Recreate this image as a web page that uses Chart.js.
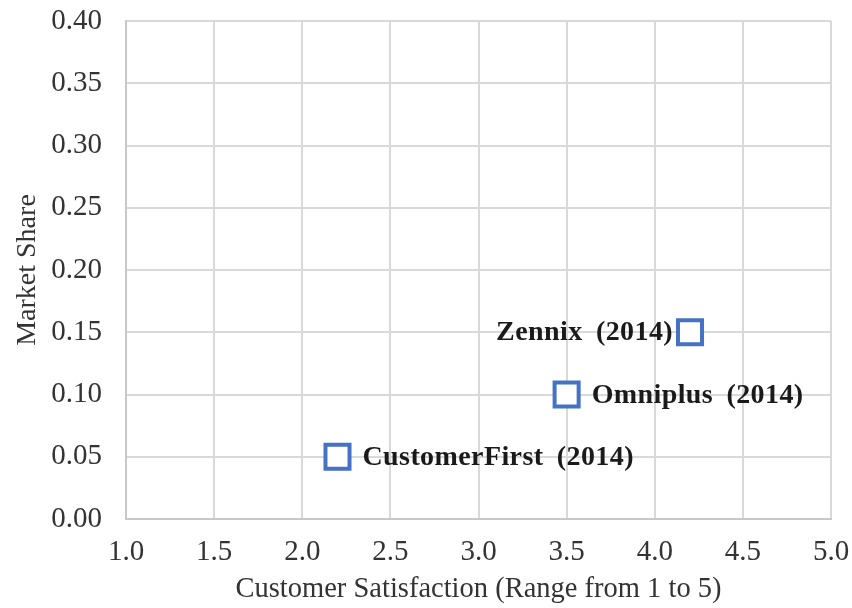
<!DOCTYPE html>
<html>
<head>
<meta charset="utf-8">
<script src="https://cdn.jsdelivr.net/npm/chart.js@4/dist/chart.umd.min.js"></script>
<style>
  html, body { margin: 0; padding: 0; background: #fff; }
  #wrap { width: 852px; height: 608px; }
</style>
</head>
<body>
<div id="wrap"><canvas id="chart" width="852" height="608"></canvas></div>
<script>
const companies = ["Zennix (2014)", "Omniplus (2014)", "CustomerFirst (2014)"];
const satisfaction = [4.2, 3.5, 2.2];
const marketShare = [0.15, 0.10, 0.05];
const labelSide = ["left", "right", "right"];

const ctx = document.querySelector("#chart").getContext("2d");
const serif = "'Liberation Serif', 'Times New Roman', serif";

//Draw the company names next to each point
const pointLabels = {
  id: "pointLabels",
  afterDatasetsDraw(chart) {
    const c = chart.ctx;
    const meta = chart.getDatasetMeta(0);
    c.save();
    c.font = "bold 28px " + serif;
    c.fillStyle = "#1a1a1a";
    c.textBaseline = "middle";
    c.letterSpacing = "0.4px";
    c.wordSpacing = "6px";
    meta.data.forEach((pt, i) => {
      if (labelSide[i] === "left") {
        c.textAlign = "right";
        c.fillText(companies[i], pt.x - 17, pt.y + 1);
      } else {
        c.textAlign = "left";
        c.fillText(companies[i], pt.x + 25, pt.y + 1);
      }
    });
    c.restore();
  },
};

new Chart(ctx, {
  type: "scatter",
  data: {
    datasets: [
      {
        label: "Market Share",
        data: satisfaction.map((s, i) => ({ x: s, y: marketShare[i] })),
        pointStyle: "rect",
        pointRadius: 17,
        pointHoverRadius: 17,
        borderColor: "#4472C4",
        backgroundColor: "#ffffff",
        borderWidth: 4,
      },
    ],
  },
  options: {
    responsive: false,
    animation: false,
    layout: { padding: { left: 0, top: 20, right: 19, bottom: 0 } },
    plugins: {
      legend: { display: false },
      tooltip: { enabled: false },
    },
    scales: {
      x: {
        type: "linear",
        min: 1,
        max: 5,
        afterFit: (scale) => {
          scale.height = 89;
          scale.paddingLeft = 0;
          scale.paddingRight = 0;
        },
        ticks: {
          stepSize: 0.5,
          padding: 16,
          color: "#333",
          font: { family: serif, size: 29 },
          callback: (v) => v.toFixed(1),
        },
        grid: { color: "#d9d9d9", lineWidth: 2, drawTicks: false },
        border: { color: "#c8c8c8", width: 2 },
        title: {
          display: true,
          text: "Customer Satisfaction (Range from 1 to 5)",
          color: "#333",
          font: { family: serif, size: 28.5 },
          padding: { top: 0, bottom: 1 },
        },
      },
      y: {
        min: 0,
        max: 0.4,
        afterFit: (scale) => {
          scale.width = 126;
          scale.paddingTop = 0;
          scale.paddingBottom = 0;
        },
        ticks: {
          stepSize: 0.05,
          padding: 24,
          color: "#333",
          font: { family: serif, size: 29 },
          callback: (v) => v.toFixed(2),
        },
        grid: { color: "#d9d9d9", lineWidth: 2, drawTicks: false },
        border: { color: "#c8c8c8", width: 2 },
        title: {
          display: true,
          text: "Market Share",
          color: "#333",
          font: { family: serif, size: 28 },
          padding: { top: 11, bottom: 0 },
        },
      },
    },
  },
  plugins: [pointLabels],
});
</script>
</body>
</html>
